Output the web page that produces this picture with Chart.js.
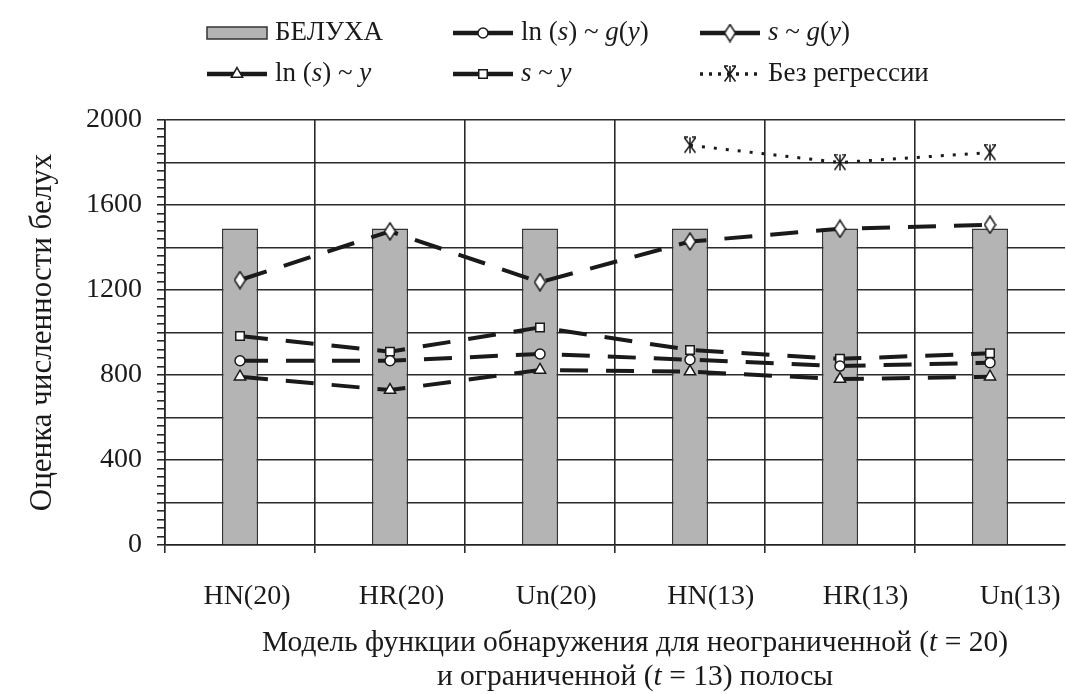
<!DOCTYPE html>
<html>
<head>
<meta charset="utf-8">
<script src="https://cdn.jsdelivr.net/npm/chart.js@4.4.1/dist/chart.umd.min.js"></script>
<style>
  body { margin: 0; background: #fff; }
  canvas { display: block; }
</style>
</head>
<body>
<canvas id="belugaChart" width="1066" height="694"></canvas>
<script>
// categories and series
var models = ['HN(20)', 'HR(20)', 'Un(20)', 'HN(13)', 'HR(13)', 'Un(13)'];
var belugaCount = [1490, 1490, 1490, 1490, 1490, 1490];
var lnSgY = [867, 867, 899, 872, 842, 858];       // ln (s) ~ g(y)
var sgY = [1247, 1476, 1237, 1428, 1488, 1507];    // s ~ g(y)
var lnSY = [792, 729, 824, 816, 781, 792];         // ln (s) ~ y
var sY = [983, 910, 1024, 918, 876, 902];          // s ~ y
var noRegression = [null, null, null, 1881, 1800, 1847];
var yTickLabels = [0, 400, 800, 1200, 1600, 2000];

document.addEventListener("DOMContentLoaded", function() {
    var serif = "'Liberation Serif', 'Times New Roman', serif";
    var ink = '#1a1a1a';
    var grid = '#2a2a2a';

    function markerCanvas(w, h, draw) {
        var c = document.createElement('canvas');
        c.width = w;
        c.height = h;
        var g = c.getContext('2d');
        g.strokeStyle = ink;
        g.fillStyle = '#fff';
        g.lineWidth = 1.5;
        draw(g, w, h);
        return c;
    }

    // tall diamond and the "ж" marker used in the figure
    var diamondMark = markerCanvas(13, 19, function(g, w, h) {
        g.beginPath();
        g.moveTo(w / 2, 1);
        g.lineTo(w - 1, h / 2);
        g.lineTo(w / 2, h - 1);
        g.lineTo(1, h / 2);
        g.closePath();
        g.fill();
        g.stroke();
    });
    var zheMark = markerCanvas(14, 18, function(g, w, h) {
        g.beginPath();
        g.moveTo(w / 2, 1); g.lineTo(w / 2, h - 1);
        g.moveTo(1.5, 1.5); g.lineTo(w - 1.5, h - 1.5);
        g.moveTo(w - 1.5, 1.5); g.lineTo(1.5, h - 1.5);
        g.moveTo(1, 1); g.lineTo(5, 1);
        g.moveTo(w - 5, 1); g.lineTo(w - 1, 1);
        g.stroke();
    });

    function lineSet(label, data, style, radius, dash, width) {
        return {
            type: 'line',
            label: label,
            data: data,
            order: 1,
            borderColor: ink,
            borderWidth: width,
            borderDash: dash,
            borderCapStyle: 'butt',
            fill: false,
            tension: 0,
            pointStyle: style,
            pointRadius: radius,
            pointBackgroundColor: '#fff',
            pointBorderColor: ink,
            pointBorderWidth: 1.5
        };
    }

    var longDash = [28, 18];

    var datasets = [
        {
            type: 'bar',
            label: 'БЕЛУХА',
            data: belugaCount,
            order: 2,
            backgroundColor: '#b4b4b4',
            borderColor: '#333',
            borderWidth: 1.5,
            categoryPercentage: 1,
            barPercentage: 0.24
        },
        lineSet('ln (s) ~ g(y)', lnSgY, 'circle', 5, longDash, 4),
        lineSet('s ~ g(y)', sgY, diamondMark, 8, longDash, 4),
        lineSet('ln (s) ~ y', lnSY, 'triangle', 6.5, longDash, 4),
        lineSet('s ~ y', sY, 'rect', 6, longDash, 4),
        lineSet('Без регрессии', noRegression, zheMark, 8, [3, 9], 3)
    ];

    // rich text labels (italic parts) for legend and x title
    var legendText = [
        [['БЕЛУХА', false]],
        [['ln (', false], ['s', true], [') ~ ', false], ['g', true], ['(', false], ['y', true], [')', false]],
        [['s', true], [' ~ ', false], ['g', true], ['(', false], ['y', true], [')', false]],
        [['ln (', false], ['s', true], [') ~ ', false], ['y', true]],
        [['s', true], [' ~ ', false], ['y', true]],
        [['Без регрессии', false]]
    ];
    var xTitle = [
        [['Модель функции обнаружения для неограниченной (', false], ['t', true], [' = 20)', false]],
        [['и ограниченной (', false], ['t', true], [' = 13) полосы', false]]
    ];

    function richWidth(ctx, parts, size) {
        var w = 0;
        parts.forEach(function(p) {
            ctx.font = (p[1] ? 'italic ' : '') + size + 'px ' + serif;
            w += ctx.measureText(p[0]).width;
        });
        return w;
    }

    function drawRich(ctx, parts, x, y, size) {
        ctx.textAlign = 'left';
        ctx.textBaseline = 'middle';
        ctx.fillStyle = ink;
        parts.forEach(function(p) {
            ctx.font = (p[1] ? 'italic ' : '') + size + 'px ' + serif;
            ctx.fillText(p[0], x, y);
            x += ctx.measureText(p[0]).width;
        });
    }

    var legendCols = [207, 453, 700];
    var legendRows = [33, 74];
    var legendSlots = [[0, 0], [1, 0], [2, 0], [0, 1], [1, 1], [2, 1]];

    var decorations = {
        id: 'decorations',
        afterDraw: function(chart) {
            var ctx = chart.ctx;
            ctx.save();
            chart.data.datasets.forEach(function(ds, i) {
                var x0 = legendCols[legendSlots[i][0]];
                var y = legendRows[legendSlots[i][1]];
                var x1 = x0 + 60;
                if (ds.type === 'bar') {
                    ctx.fillStyle = ds.backgroundColor;
                    ctx.strokeStyle = ds.borderColor;
                    ctx.lineWidth = 1.5;
                    ctx.fillRect(x0, y - 6, 60, 12);
                    ctx.strokeRect(x0, y - 6, 60, 12);
                } else {
                    ctx.strokeStyle = ink;
                    ctx.lineWidth = ds.borderWidth + 0.5;
                    ctx.setLineDash(ds.borderDash[0] < 5 ? [3, 6] : []);
                    ctx.beginPath();
                    ctx.moveTo(x0, y);
                    ctx.lineTo(x1, y);
                    ctx.stroke();
                    ctx.setLineDash([]);
                    ctx.fillStyle = '#fff';
                    ctx.lineWidth = 1.5;
                    Chart.helpers.drawPoint(ctx, {
                        pointStyle: ds.pointStyle,
                        radius: ds.pointRadius,
                        borderWidth: 1.5,
                        rotation: 0
                    }, (x0 + x1) / 2, y);
                }
                drawRich(ctx, legendText[i], x1 + 8, y, 27);
            });
            xTitle.forEach(function(line, k) {
                var w = richWidth(ctx, line, 29.5);
                drawRich(ctx, line, 635 - w / 2, 643 + k * 34, 29.5);
            });
            ctx.restore();
        }
    };

    var tickFont = { family: serif, size: 28 };

    function noSidePadding(s) {
        s.paddingLeft = 0;
        s.paddingRight = 0;
    }

    new Chart(document.getElementById('belugaChart').getContext('2d'), {
        data: { labels: models, datasets: datasets },
        options: {
            responsive: false,
            animation: false,
            layout: { autoPadding: false, padding: { top: 120, right: 1, bottom: 0, left: 0 } },
            plugins: {
                legend: { display: false },
                tooltip: { enabled: false }
            },
            scales: {
                x: {
                    type: 'category',
                    offset: true,
                    grid: {
                        offset: true,
                        color: function(c) { return c.type === 'tick' ? grid : 'rgba(0,0,0,0)'; },
                        lineWidth: 1.6,
                        tickLength: 8
                    },
                    border: { color: '#222', width: 1.6 },
                    ticks: { display: false },
                    afterFit: function(s) { s.height = 8; noSidePadding(s); }
                },
                // label axis: the category names sit slightly wider apart than the bars
                xLab: {
                    type: 'linear',
                    position: 'bottom',
                    min: -0.53,
                    max: 5.29,
                    afterBuildTicks: function(s) {
                        s.ticks = models.map(function(m, i) { return { value: i }; });
                    },
                    grid: {
                        display: true,
                        drawOnChartArea: false,
                        color: 'rgba(0,0,0,0)',
                        tickColor: 'rgba(0,0,0,0)',
                        tickLength: 27
                    },
                    border: { display: false },
                    ticks: {
                        autoSkip: false,
                        maxRotation: 0,
                        padding: 0,
                        font: tickFont,
                        color: ink,
                        callback: function(v) { return models[v]; }
                    },
                    afterFit: function(s) { s.height = 141; noSidePadding(s); }
                },
                y: {
                    min: 0,
                    max: 2000,
                    ticks: {
                        stepSize: 40,
                        autoSkip: false,
                        padding: 15,
                        font: tickFont,
                        color: ink,
                        callback: function(v) { return yTickLabels.indexOf(v) >= 0 ? v : ''; }
                    },
                    grid: {
                        color: function(c) {
                            return c.tick && c.tick.value % 200 === 0 ? grid : 'rgba(0,0,0,0)';
                        },
                        tickColor: grid,
                        lineWidth: 1.6,
                        tickLength: 8
                    },
                    border: { color: '#222', width: 1.6 },
                    title: {
                        display: true,
                        text: 'Оценка численности белух',
                        font: { family: serif, size: 31 },
                        color: ink,
                        padding: { top: 24, bottom: 0 }
                    },
                    afterFit: function(s) { s.width = 165; }
                }
            }
        },
        plugins: [decorations]
    });
});
</script>
</body>
</html>
